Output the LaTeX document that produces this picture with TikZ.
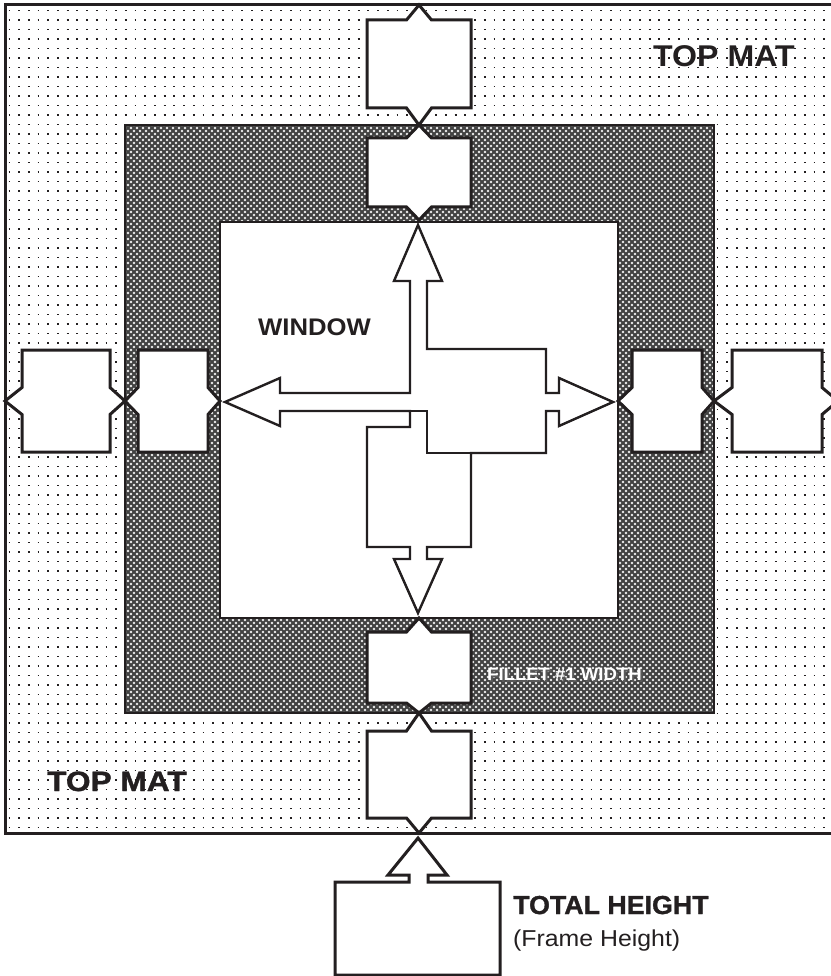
\documentclass[tikz,border=0pt]{standalone}
\usepackage{fontspec}
\usepackage{graphicx}
\setmainfont{Liberation Sans}
\newfontfamily\heavyfont{Liberation Sans Bold}[FakeBold=1.2]
\definecolor{ink}{HTML}{231F20}
% vertical box with pointed top and bottom: x1 x2 ytop ybot apexTop apexBot
\newcommand{\notchV}[6]{%
  \pgfmathsetmacro\nxc{(#1+#2)/2}%
  \draw[boxline] (#1,#3) -- ({\nxc-12.5},#3) -- (\nxc,#5) -- ({\nxc+12.5},#3) -- (#2,#3)
    -- (#2,#4) -- ({\nxc+12.5},#4) -- (\nxc,#6) -- ({\nxc-12.5},#4) -- (#1,#4) -- cycle;}
% horizontal box with pointed left and right: x1 x2 ytop ybot apexLeft apexRight
\newcommand{\notchH}[6]{%
  \pgfmathsetmacro\nyc{(#3+#4)/2}%
  \draw[boxline] (#1,#3) -- (#2,#3) -- (#2,{\nyc-13.5}) -- (#6,\nyc) -- (#2,{\nyc+13.5})
    -- (#2,#4) -- (#1,#4) -- (#1,{\nyc+13.5}) -- (#5,\nyc) -- (#1,{\nyc-13.5}) -- cycle;}
\newcommand{\lbl}[3]{{\fontsize{#1}{#1}\selectfont\scalebox{#2}[1]{#3}}}
\begin{document}
\begin{tikzpicture}[x=1pt,y=-1pt,
  boxline/.style={draw=ink,line width=3pt,fill=white,line join=miter},
  arrowline/.style={draw=ink,line width=2.4pt,fill=white,line join=miter},
  txt/.style={inner sep=0pt,anchor=base west,text=ink,font=\bfseries}]
\useasboundingbox (0,0) rectangle (830,976);
% ---- top mat (dotted) ----
\fill[white] (0,0) rectangle (830,976);
\begin{scope}
  \clip (5,5) rectangle (845,833);
  \foreach \j in {0,...,88}
    \draw[ink,line width=1.8pt,dash pattern=on 1.8pt off 7.9pt] (8.5,{10.5+\j*9.5}) -- (845,{10.5+\j*9.5});
\end{scope}
\draw[ink,line width=3pt] (5,5) rectangle (845,833);
% ---- fillet (cross-hatched) ----
\fill[white!92!black] (125,125) rectangle (714,713);
\begin{scope}
  \clip (125,125) rectangle (714,713);
  \foreach \c in {0,...,200} {
    \draw[black!74,line width=2pt] ({125+\c*6-600},125) -- ++(600,600);
    \draw[black!74,line width=2pt] ({125+\c*6},125) -- ++(-600,600);
  }
\end{scope}
\draw[ink,line width=2pt] (125,125) rectangle (714,713);
% ---- window ----
\draw[ink,line width=2pt,fill=white] (220,222) rectangle (618,618);
% ---- notched boxes ----
\notchV{367}{471}{20}{108}{5}{125}
\notchV{367}{471}{138}{207}{125}{220}
\notchV{367}{471}{632}{703}{618}{713}
\notchV{367}{471}{731}{818}{713}{833}
\notchH{22}{110}{350}{452}{5}{125}
\notchH{138}{208}{350}{452}{125}{220}
\notchH{632}{702}{350}{452}{618}{714}
\notchH{732}{822}{350}{452}{714}{838}
% ---- central arrows ----
\draw[arrowline] (418,225) -- (442,281) -- (427,281) -- (427,349) -- (546,349) -- (546,393)
  -- (559,393) -- (559,378) -- (613,402) -- (559,426) -- (559,411) -- (546,411) -- (546,453)
  -- (471,453) -- (471,547) -- (427,547) -- (427,559) -- (442,559) -- (418,613) -- (394,559)
  -- (410,559) -- (410,547) -- (367,547) -- (367,427) -- (410,427) -- (410,411) -- (280,411)
  -- (280,426) -- (225,402) -- (280,378) -- (280,393) -- (410,393) -- (410,281) -- (394,281) -- cycle;
\draw[ink,line width=2.4pt,line join=miter] (410,411) -- (427,411) -- (427,453) -- (471,453);
% ---- total height arrow ----
\draw[boxline] (335,882) -- (409,882) -- (409,875) -- (388,875) -- (418,838) -- (447,875)
  -- (428,875) -- (428,882) -- (500,882) -- (500,975) -- (335,975) -- cycle;
% ---- labels ----
\node[txt] (tm1) at (653,67) {\lbl{30}{1.07}{TOP MAT}};
\node[txt,font=\heavyfont] (tm2) at (47,791) {\lbl{28}{1.13}{TOP MAT}};
\node[txt] (win) at (258,335) {\lbl{24}{1.07}{WINDOW}};
\node[txt,text=black!65] (fsh) at (489,682) {\lbl{18}{1.03}{FILLET \#1 WIDTH}};
\node[txt,text=white] (fil) at (487,680) {\lbl{18}{1.03}{FILLET \#1 WIDTH}};
\node[txt,font=\heavyfont] (th) at (513,914) {\lbl{26}{1.03}{TOTAL HEIGHT}};
\node[txt,font=\mdseries] (fh) at (513,946) {\lbl{23}{1.08}{(Frame Height)}};
\end{tikzpicture}
\end{document}
